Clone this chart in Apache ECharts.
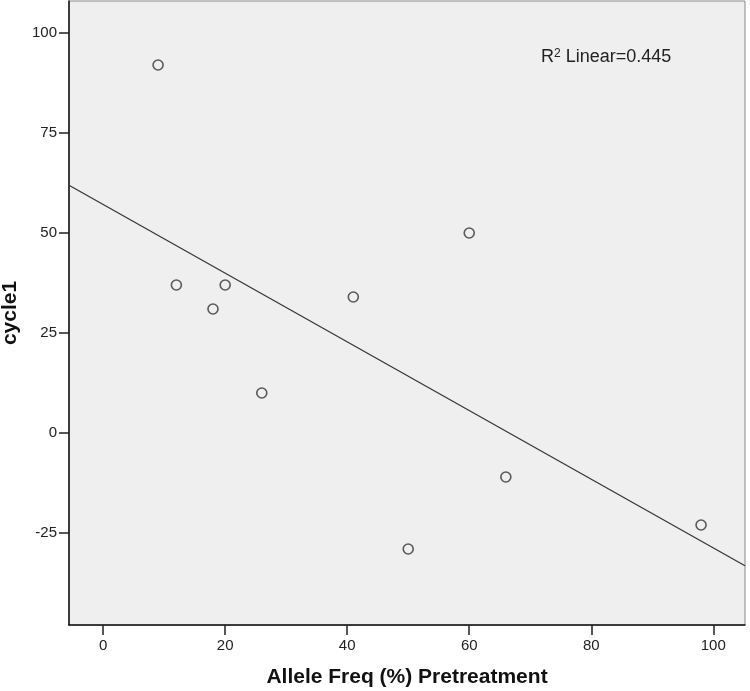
<!DOCTYPE html>
<html>
<head>
<meta charset="utf-8">
<script src="https://cdn.jsdelivr.net/npm/echarts@6/dist/echarts.min.js"></script>
<style>
  html, body { margin: 0; padding: 0; background: #fff; }
  #chart { width: 750px; height: 691px; }
</style>
</head>
<body>
<div id="chart"></div>
<script>
// allele frequency (%) vs cycle1
const alleleFreq = [9, 12, 20, 18, 26, 41, 60, 66, 50, 98];
const cycle1 = [92, 37, 37, 31, 10, 34, 50, -11, -29, -23];
const xTicks = [0, 20, 40, 60, 80, 100];
const yTicks = [-25, 0, 25, 50, 75, 100];
const xRange = [-5.6, 105.2];
const yRange = [-48, 108];
const r2Text = '0.445';

// least squares fit line
const n = alleleFreq.length;
const mx = alleleFreq.reduce((a, b) => a + b, 0) / n;
const my = cycle1.reduce((a, b) => a + b, 0) / n;
let sxy = 0, sxx = 0;
for (let i = 0; i < n; i++) {
  sxy += (alleleFreq[i] - mx) * (cycle1[i] - my);
  sxx += (alleleFreq[i] - mx) * (alleleFreq[i] - mx);
}
const slope = sxy / sxx;
const intercept = my - slope * mx;
const fitLine = xRange.map(x => [x, intercept + slope * x]);

const chart = echarts.init(document.getElementById('chart'));
const font = 'Liberation Sans, Arial, sans-serif';

chart.setOption({
  animation: false,
  grid: {
    left: 69, right: 5, top: 1, bottom: 66,
    containLabel: false, outerBoundsMode: 'none',
    show: true, backgroundColor: '#efefef', borderColor: '#888', borderWidth: 1
  },
  xAxis: {
    type: 'value',
    min: xRange[0], max: xRange[1],
    name: 'Allele Freq (%) Pretreatment',
    nameLocation: 'middle', nameGap: 42,
    nameTextStyle: { fontFamily: font, fontWeight: 'bold', fontSize: 21, color: '#111' },
    splitLine: { show: false },
    axisLine: { onZero: false, lineStyle: { color: '#111', width: 1.5 } },
    axisTick: { customValues: xTicks, length: 10, lineStyle: { color: '#222', width: 1.5 } },
    axisLabel: { customValues: xTicks, fontFamily: font, fontSize: 15, color: '#222', margin: 13 }
  },
  yAxis: {
    type: 'value',
    min: yRange[0], max: yRange[1],
    name: 'cycle1',
    nameLocation: 'middle', nameGap: 42,
    nameTextStyle: { fontFamily: font, fontWeight: 'bold', fontSize: 21, color: '#111' },
    splitLine: { show: false },
    axisLine: { onZero: false, lineStyle: { color: '#111', width: 1.5 } },
    axisTick: { customValues: yTicks, length: 10, lineStyle: { color: '#222', width: 1.5 } },
    axisLabel: { customValues: yTicks, fontFamily: font, fontSize: 15, color: '#222', margin: 12 }
  },
  graphic: [{
    type: 'text',
    left: 541, top: 48,
    style: {
      text: '{a|R}{s|2}{a| Linear=' + r2Text + '}',
      rich: {
        a: { fontFamily: font, fontSize: 18, fill: '#222' },
        s: { fontFamily: font, fontSize: 12, fill: '#222', verticalAlign: 'top', padding: [0, 0, 6, 0] }
      }
    }
  }],
  series: [
    {
      type: 'line',
      data: fitLine,
      symbol: 'none',
      lineStyle: { color: '#333', width: 1.2 },
      silent: true
    },
    {
      type: 'scatter',
      data: alleleFreq.map((x, i) => [x, cycle1[i]]),
      symbol: 'circle',
      symbolSize: 10,
      itemStyle: { color: '#efefef', borderColor: '#333', borderWidth: 1.6 }
    }
  ]
});
</script>
</body>
</html>
